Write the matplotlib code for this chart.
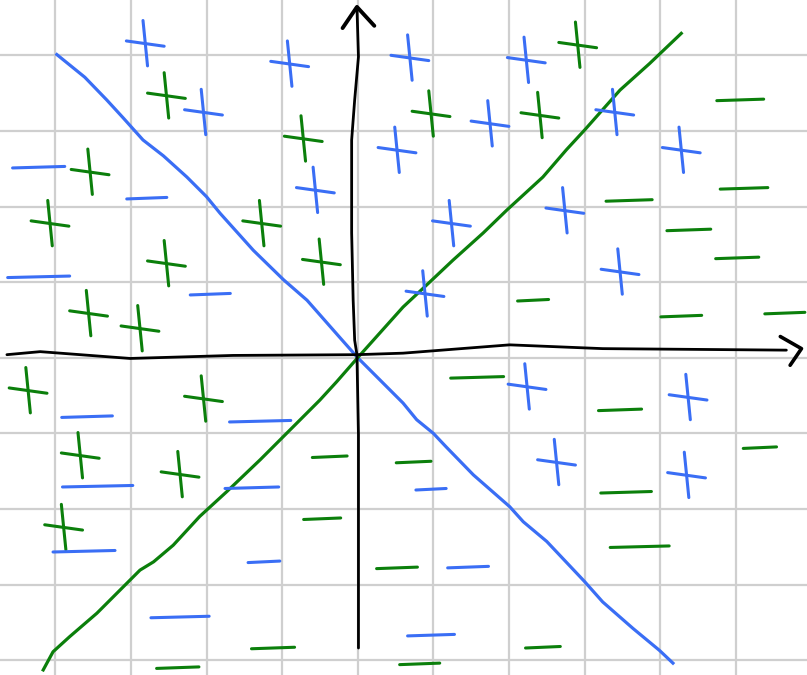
import matplotlib
matplotlib.use('Agg')
import matplotlib.pyplot as plt
import numpy as np

BLUE = '#3a6ef5'
GREEN = '#0b7f0b'

# 手绘直线（网格单位，原点在两轴交点）
blue_line_x = [-3.98, -3.61, -3.32, -3.10, -2.84, -2.57, -2.26, -2.00, -1.82, -1.38,
               -0.98, -0.67, -0.23, 0.00, 0.60, 0.78, 1.00, 1.17, 1.53, 2.01,
               2.19, 2.50, 3.00, 3.24, 3.64, 3.99, 4.17]
blue_line_y = [4.01, 3.71, 3.41, 3.17, 2.88, 2.67, 2.39, 2.13, 1.91, 1.42,
               1.03, 0.76, 0.26, 0.00, -0.60, -0.82, -1.00, -1.18, -1.55, -1.97,
               -2.17, -2.43, -2.96, -3.23, -3.58, -3.87, -4.04]

green_line_x = [-4.16, -4.03, -3.81, -3.45, -3.19, -2.88, -2.70, -2.44, -2.09, -1.73,
                -1.29, -0.94, -0.50, -0.28, 0.00, 0.60, 0.91, 1.26, 1.66, 1.97,
                2.45, 2.76, 3.00, 3.47, 3.86, 4.28]
green_line_y = [-4.13, -3.89, -3.69, -3.38, -3.12, -2.81, -2.70, -2.48, -2.10, -1.77,
                -1.35, -1.00, -0.56, -0.32, 0.00, 0.67, 0.96, 1.29, 1.65, 1.95,
                2.39, 2.75, 3.01, 3.54, 3.89, 4.29]

# 坐标轴
x_axis_x = [-4.64, -4.20, -3.01, -1.65, -0.01, 0.60, 2.01, 3.24, 5.67]
x_axis_y = [0.04, 0.08, -0.01, 0.03, 0.04, 0.06, 0.17, 0.12, 0.10]
x_head_x = [5.59, 5.87, 5.72]
x_head_y = [0.28, 0.12, -0.10]

y_axis_x = [0.01, 0.01, -0.01, -0.04, -0.06, -0.08, -0.08, -0.04, 0.01, -0.01]
y_axis_y = [-3.84, -1.02, 0.04, 0.23, 0.76, 1.65, 2.88, 3.41, 3.98, 4.64]
y_head_x = [-0.20, -0.01, 0.22]
y_head_y = [4.36, 4.64, 4.39]

# 正号中心
blue_plus_x = [-2.81, -2.04, -0.90, -0.56, 0.52, 0.69, 1.75, 2.23, 3.40,
               4.28, 2.74, 1.24, 3.47, 0.89, 2.24, 4.37, 2.63, 4.35]
blue_plus_y = [4.16, 3.25, 3.89, 2.22, 2.75, 3.97, 3.10, 3.94, 3.25,
               2.75, 1.95, 1.78, 1.14, 0.85, -0.38, -0.52, -1.38, -1.55]

green_plus_x = [-2.53, -0.72, -3.54, -4.07, -1.27, -2.53, -0.48, -3.56, -2.88,
                0.97, 2.41, 2.91, -4.36, -2.04, -3.67, -2.35, -3.89]
green_plus_y = [3.47, 2.90, 2.46, 1.78, 1.78, 1.25, 1.27, 0.59, 0.39,
                3.23, 3.21, 4.14, -0.43, -0.54, -1.29, -1.54, -2.24]

# 负号中心与长度
blue_minus_x = [-4.22, -2.79, -4.22, -1.95, -3.58, -1.29, -3.44, -1.40,
                -3.62, -1.24, -2.35, 0.97, 1.46, 0.97]
blue_minus_y = [2.52, 2.11, 1.07, 0.84, -0.78, -0.84, -1.70, -1.72,
                -2.56, -2.70, -3.43, -1.74, -2.77, -3.67]
blue_minus_w = [0.69, 0.53, 0.82, 0.53, 0.67, 0.81, 0.93, 0.71,
                0.82, 0.42, 0.77, 0.40, 0.54, 0.62]

green_minus_x = [5.06, 5.11, 3.59, 4.38, 5.02, 2.32, 4.28, 5.65, 1.58, 3.47, 5.32,
                 3.55, 3.73, 0.52, -0.37, 0.74, -0.47, -1.12, -2.38, 2.45, 0.82]
green_minus_y = [3.41, 2.24, 2.08, 1.69, 1.32, 0.76, 0.55, 0.59, -0.26, -0.69, -1.19,
                 -1.78, -2.50, -2.78, -1.31, -1.38, -2.13, -3.84, -4.10, -3.83, -4.05]
green_minus_w = [0.62, 0.63, 0.61, 0.58, 0.57, 0.41, 0.54, 0.53, 0.70, 0.57, 0.44,
                 0.67, 0.78, 0.54, 0.46, 0.46, 0.49, 0.57, 0.56, 0.46, 0.53]


def draw_plus(ax, xs, ys, color):
    for x, y in zip(xs, ys):
        ax.plot([x - 0.03, x + 0.03], [y + 0.30, y - 0.30], color=color,
                lw=2.2, solid_capstyle='round')
        ax.plot([x - 0.25, x + 0.25], [y + 0.03, y - 0.04], color=color,
                lw=2.2, solid_capstyle='round')


def draw_minus(ax, xs, ys, ws, color):
    for x, y, w in zip(xs, ys, ws):
        ax.plot([x - w / 2, x + w / 2], [y - 0.01, y + 0.01], color=color,
                lw=2.2, solid_capstyle='round')


fig = plt.figure(figsize=(8.07, 6.75), dpi=100)
ax = fig.add_axes([0, 0, 1, 1])
u = 75.6
ax.set_xlim(-357.7 / u, (807 - 357.7) / u)
ax.set_ylim((357.7 - 675) / u, 357.7 / u)

ax.set_xticks(np.arange(-4, 6))
ax.set_yticks(np.arange(-4, 5))
ax.grid(True, color='#cfcfcf', lw=1.6)
ax.tick_params(length=0, labelbottom=False, labelleft=False)
for s in ax.spines.values():
    s.set_visible(False)
ax.set_axisbelow(True)

ax.plot(blue_line_x, blue_line_y, color=BLUE, lw=2.3, solid_joinstyle='round')
ax.plot(green_line_x, green_line_y, color=GREEN, lw=2.3, solid_joinstyle='round')

ax.plot(x_axis_x, x_axis_y, color='black', lw=2.0, solid_capstyle='round')
ax.plot(x_head_x, x_head_y, color='black', lw=2.6, solid_capstyle='round')
ax.plot(y_axis_x, y_axis_y, color='black', lw=2.0, solid_capstyle='round')
ax.plot(y_head_x, y_head_y, color='black', lw=2.8, solid_capstyle='round')

draw_plus(ax, blue_plus_x, blue_plus_y, BLUE)
draw_plus(ax, green_plus_x, green_plus_y, GREEN)
draw_minus(ax, blue_minus_x, blue_minus_y, blue_minus_w, BLUE)
draw_minus(ax, green_minus_x, green_minus_y, green_minus_w, GREEN)

fig.savefig('out.png', dpi=100)
